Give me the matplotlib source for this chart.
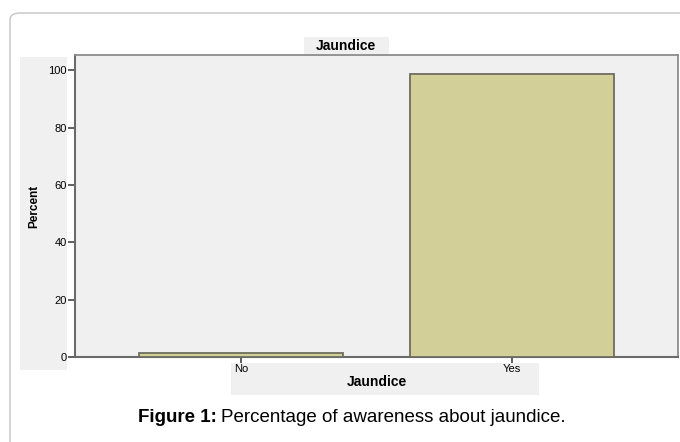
import matplotlib.pyplot as plt
from matplotlib.patches import FancyBboxPatch, Rectangle

plt.rcParams['font.family'] = ['Liberation Sans', 'DejaVu Sans']

# data
categories = ['No', 'Yes']
percent = [1.4, 98.6]
yticks = [0, 20, 40, 60, 80, 100]

W, H = 680, 442
fig = plt.figure(figsize=(W / 100, H / 100), dpi=100)

def fx(px):
    return px / W

def fy(py):
    return 1 - py / H

# outer rounded frame of the figure panel
frame = FancyBboxPatch((fx(10), fy(500)), fx(720), fy(13) - fy(500),
                       boxstyle="round,pad=0,rounding_size=0.015",
                       transform=fig.transFigure, facecolor='white',
                       edgecolor='#c4c4c4', linewidth=1.0, zorder=0)
fig.patches.append(frame)

# grey label backgrounds (SPSS style)
for (x0, y0, x1, y1) in [(20, 57, 67, 370), (231, 363, 539, 395), (304, 37, 389, 54)]:
    fig.patches.append(Rectangle((fx(x0), fy(y1)), fx(x1 - x0), fy(y0) - fy(y1),
                                 transform=fig.transFigure, facecolor='#f0f0f0',
                                 edgecolor='none', zorder=0.5))

ax = fig.add_axes([fx(75), fy(357), fx(678 - 75), fy(55) - fy(357)])
ax.set_zorder(2)
ax.set_facecolor('#f0f0f0')

x = range(len(categories))
ax.bar(x, percent, width=0.755, color='#d3cf98', edgecolor='#6e6e5e', linewidth=1.3, zorder=3)

ax.set_xlim(-0.613, 1.613)
ax.set_ylim(0, 105.4)
ax.set_xticks(list(x))
ax.set_xticklabels(categories, fontsize=8)
ax.set_yticks(yticks)
ax.set_yticklabels([str(v) for v in yticks], fontsize=8)
ax.tick_params(axis='y', direction='out', length=5, width=1.2, color='#444444', pad=1)
ax.tick_params(axis='x', direction='out', length=4, width=1.2, color='#444444', pad=1)

for side in ['left', 'bottom']:
    ax.spines[side].set_color('#6a6a6a')
    ax.spines[side].set_linewidth(1.5)
for side in ['top', 'right']:
    ax.spines[side].set_color('#8c8c8c')
    ax.spines[side].set_linewidth(1.3)

ax.set_xlabel('Jaundice', fontsize=10, fontweight='bold', labelpad=1)
ax.set_ylabel('Percent', fontsize=8.5, fontweight='bold', labelpad=6)

fig.text(fx(346), fy(46), 'Jaundice', ha='center', va='center', fontsize=10, fontweight='bold', zorder=3)

# caption
cap_bold = fig.text(fx(138), fy(417), 'Figure 1:', ha='left', va='center', fontsize=13.5, fontweight='bold')
fig.canvas.draw()
bb = cap_bold.get_window_extent()
fig.text(bb.x1 / W + fx(4), fy(417), 'Percentage of awareness about jaundice.', ha='left', va='center',
         fontsize=13.5)

fig.savefig('out.png', dpi=100)
